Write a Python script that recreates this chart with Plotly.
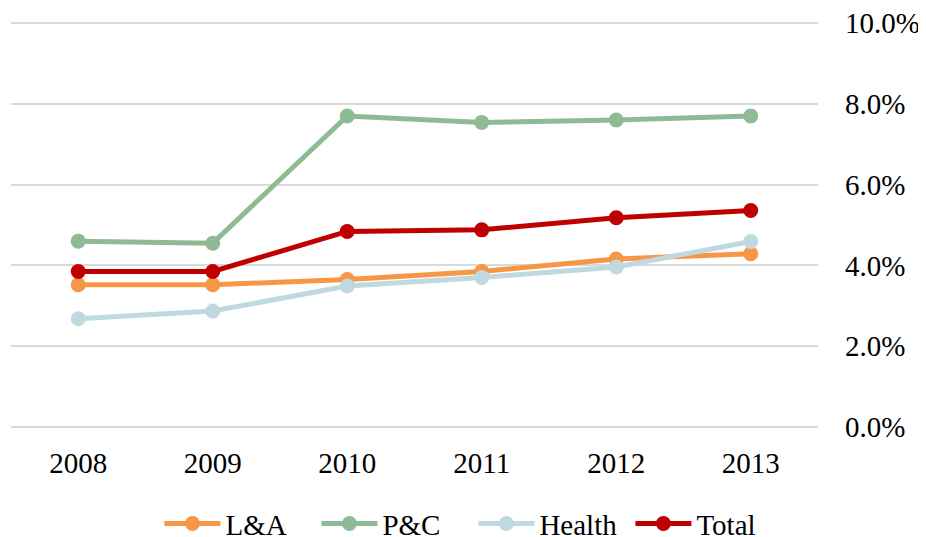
import plotly.graph_objects as go

years = ["2008", "2009", "2010", "2011", "2012", "2013"]
la = [0.0352, 0.0352, 0.0365, 0.0385, 0.0416, 0.0429]
pc = [0.0460, 0.0455, 0.0770, 0.0754, 0.0760, 0.0770]
health = [0.0268, 0.0287, 0.0349, 0.0370, 0.0396, 0.0459]
total = [0.0385, 0.0385, 0.0484, 0.0488, 0.0518, 0.0536]
y_ticks = [0.0, 0.02, 0.04, 0.06, 0.08, 0.10]

series = [
    ("L&A", la, "#F79646"),
    ("P&C", pc, "#8FBB94"),
    ("Health", health, "#BFD9DE"),
    ("Total", total, "#C00000"),
]

FONT = "Liberation Serif"

fig = go.Figure()
for name, vals, color in series:
    fig.add_trace(go.Scatter(
        x=years, y=vals, name=name, mode="lines+markers",
        line=dict(color=color, width=5),
        marker=dict(color=color, size=15),
    ))

# page body has an 8px margin, so the figure is 8px smaller and offset
fig.update_layout(
    width=918, height=529,
    margin=dict(l=3, r=108, t=13, b=110, autoexpand=False),
    paper_bgcolor="white", plot_bgcolor="white",
    font=dict(family=FONT, size=29, color="#000000"),
    showlegend=True,
    legend=dict(orientation="h", x=0.573, xanchor="center", y=-0.238, yanchor="middle",
                font=dict(family=FONT, size=29), itemwidth=56,
                entrywidth=86, entrywidthmode="pixels",
                traceorder="normal", bgcolor="rgba(0,0,0,0)"),
    xaxis=dict(type="category", range=[-0.5, 5.5], showgrid=False, showline=False,
               zeroline=False, ticks="", ticklabelstandoff=16, tickfont=dict(size=29)),
    yaxis=dict(side="right", range=[0, 0.1005], tickmode="array", tickvals=y_ticks,
               tickformat=".1%", ticklabeloverflow="allow",
               showgrid=True, gridcolor="#D9D9D9", gridwidth=1.5,
               zeroline=True, zerolinecolor="#D9D9D9", zerolinewidth=1.5,
               showline=False, ticks="", ticklabelstandoff=26, tickfont=dict(size=29)),
)

fig.write_html("out.html")
